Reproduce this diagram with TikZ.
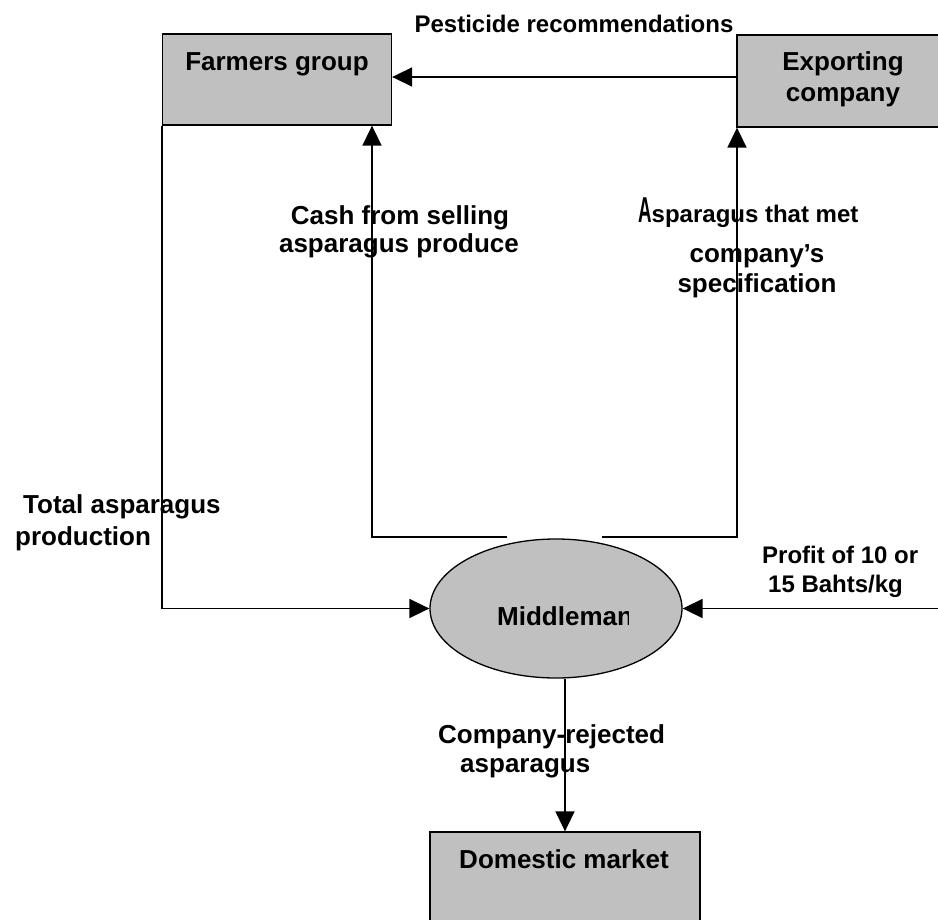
\documentclass[tikz,border=0pt]{standalone}
\usepackage{fontspec}
\usepackage{graphicx}
\setmainfont{Liberation Sans}
\usetikzlibrary{shapes.geometric,arrows.meta}
\definecolor{boxgray}{HTML}{C0C0C0}
\begin{document}
\begin{tikzpicture}[x=1pt,y=-1pt,
  box/.style={rectangle, draw=black, line width=1.3pt, fill=boxgray, inner sep=0pt},
  oval/.style={ellipse, draw=black, line width=1.3pt, fill=boxgray, inner sep=0pt},
  lbl/.style={inner sep=0pt, font=\fontsize{26}{30}\selectfont\bfseries},
  lblsm/.style={inner sep=0pt, font=\fontsize{24}{28}\selectfont\bfseries},
  flow/.style={line width=1.7pt, -{Triangle[length=20pt,width=19pt]}}]

% page frame
\clip (0,0) rectangle (938,920);
\fill[white] (0,0) rectangle (938,920);

% actors
\node[box, minimum width=229pt, minimum height=91pt] (farm) at (277,79.5) {};
\node[box, minimum width=212pt, minimum height=92pt] (exp) at (843,81) {};
\node[oval, minimum width=252pt, minimum height=139pt] (mid) at (556,608.5) {};
\node[box, minimum width=270pt, minimum height=128pt] (dom) at (565,896) {};

% actor names
\node[lbl, anchor=base] (farmtxt) at (277,71) {Farmers group};
\node[lbl, anchor=base] (exptxt1) at (843,71) {Exporting};
\node[lbl, anchor=base] (exptxt2) at (843,102) {company};
\begin{scope}
  \clip (480,580) rectangle (628,645);
  \node[lbl, anchor=base west] (midtxt) at (497,625) {Middleman};
\end{scope}
\node[lbl, anchor=base] (domtxt) at (564,868) {Domestic market};

% routing points
\coordinate (pestrow) at (600,77);
\coordinate (cashcorner) at (372,537);
\coordinate (metcorner) at (737,537);
\coordinate (cashgap) at (507,537);
\coordinate (metgap) at (602,537);
\coordinate (profitend) at (945,608.5);

% flows
\draw[flow] (exp.west |- pestrow) -- (farm.east |- pestrow);
\draw[flow] (cashgap) -- (cashcorner) -- (cashcorner |- farm.south);
\draw[flow] (metgap) -- (metcorner) -- (metcorner |- exp.south);
\draw[flow] (farm.south west) -- (farm.south west |- mid.west) -- (mid.west);
\draw[flow] (profitend) -- (mid.east);
\draw[flow] (dom.north |- mid.south) -- (dom.north);

% flow labels
\node[lblsm, anchor=base] (pest) at (574,33) {Pesticide recommendations};
\node[lbl, anchor=base] (cash1) at (400,225) {Cash from selling};
\node[lbl, anchor=base] (cash2) at (399,253) {asparagus produce};
\node[lblsm, anchor=base west] (met1) at (638,223) {\scalebox{0.78}[1.5]{A}sparagus that met};
\node[lbl, anchor=base] (met2) at (757,263) {company’s};
\node[lbl, anchor=base] (met3) at (757,293) {specification};
\node[lbl, anchor=base west] (tot1) at (23,513) {Total asparagus};
\node[lbl, anchor=base west] (tot2) at (15,545) {production};
\node[lblsm, anchor=base west] (prof1) at (762,563) {Profit of 10 or};
\node[lblsm, anchor=base west] (prof2) at (768,592) {15 Bahts/kg};
\node[lbl, anchor=base west] (rej1) at (438,743) {Company-rejected};
\node[lbl, anchor=base west] (rej2) at (460,772) {asparagus};
\end{tikzpicture}
\end{document}
